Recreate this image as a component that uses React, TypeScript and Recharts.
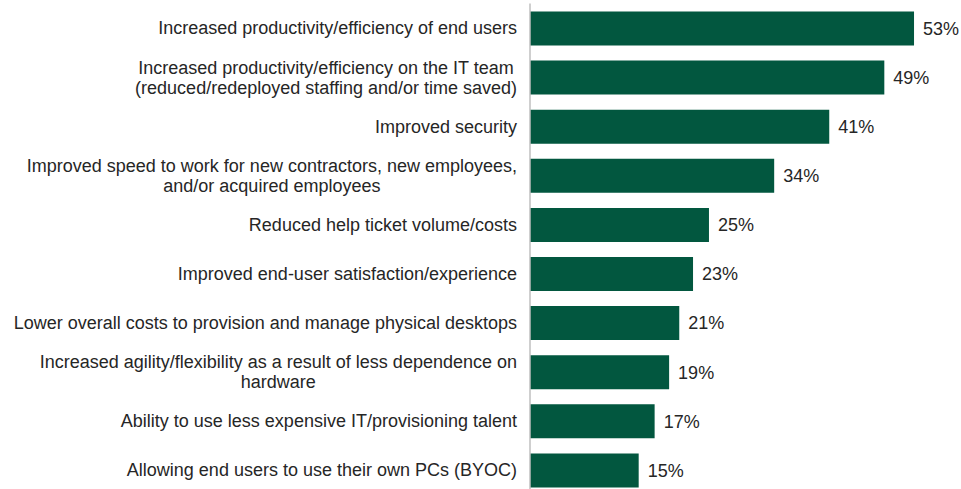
import { BarChart, Bar, XAxis, YAxis, LabelList } from 'recharts'

const categories = [
  'Increased productivity/efficiency of end users',
  'Increased productivity/efficiency on the IT team\n(reduced/redeployed staffing and/or time saved)',
  'Improved security',
  'Improved speed to work for new contractors, new employees,\nand/or acquired employees',
  'Reduced help ticket volume/costs',
  'Improved end-user satisfaction/experience',
  'Lower overall costs to provision and manage physical desktops',
  'Increased agility/flexibility as a result of less dependence on\nhardware',
  'Ability to use less expensive IT/provisioning talent',
  'Allowing end users to use their own PCs (BYOC)',
]

// bar lengths; labels show them rounded
const values = [53, 48.9, 41.3, 33.7, 24.7, 22.5, 20.6, 19.2, 17.2, 15]

const data = categories.map((name, i) => ({ name, value: values[i] }))

const textColor = '#262626'
const font = '"Liberation Sans", Arial, sans-serif'
const fontSize = 18

document.body.style.margin = '0'

let ctx: CanvasRenderingContext2D | null = null
function measure(s: string) {
  if (!ctx) {
    ctx = document.createElement('canvas').getContext('2d')
    if (ctx) ctx.font = `${fontSize}px ${font}`
  }
  return ctx ? ctx.measureText(s).width : s.length * 8.4
}

// wrapped labels: lines centred on each other, block right-aligned at the axis
function CategoryTick(props: any) {
  const { x, y, payload } = props
  const lines: string[] = String(payload.value).split('\n')
  const lineHeight = 20
  const start = -((lines.length - 1) * lineHeight) / 2
  const blockWidth = Math.max(...lines.map(measure))
  const multi = lines.length > 1
  return (
    <g>
      {lines.map((line, i) => (
        <text
          key={i}
          x={multi ? x - blockWidth / 2 : x}
          y={y + start + i * lineHeight}
          dy="0.355em"
          textAnchor={multi ? 'middle' : 'end'}
          fill={textColor}
          fontSize={fontSize}
          fontFamily={font}
        >
          {line}
        </text>
      ))}
    </g>
  )
}

export default function App() {
  return (
    <div style={{ width: 961, height: 489, overflow: 'hidden', background: '#fff' }}>
      <BarChart
        width={961}
        height={500}
        data={data}
        layout="vertical"
        margin={{ top: 3.5, right: 3.5, bottom: 5.5, left: 0 }}
        style={{ overflow: 'visible' }}
      >
        <XAxis type="number" domain={[0, 59]} hide />
        <YAxis
          type="category"
          dataKey="name"
          width={530}
          axisLine={{ stroke: '#bfbfbf', strokeWidth: 1.5 }}
          tickLine={false}
          tickSize={0}
          tickMargin={13}
          interval={0}
          tick={<CategoryTick />}
        />
        <Bar dataKey="value" fill="#02573f" barSize={34} isAnimationActive={false}>
          <LabelList
            dataKey="value"
            position="right"
            offset={9}
            fill={textColor}
            fontSize={fontSize}
            fontFamily={font}
            formatter={(v: any) => `${Math.round(v)}%`}
          />
        </Bar>
      </BarChart>
    </div>
  )
}
